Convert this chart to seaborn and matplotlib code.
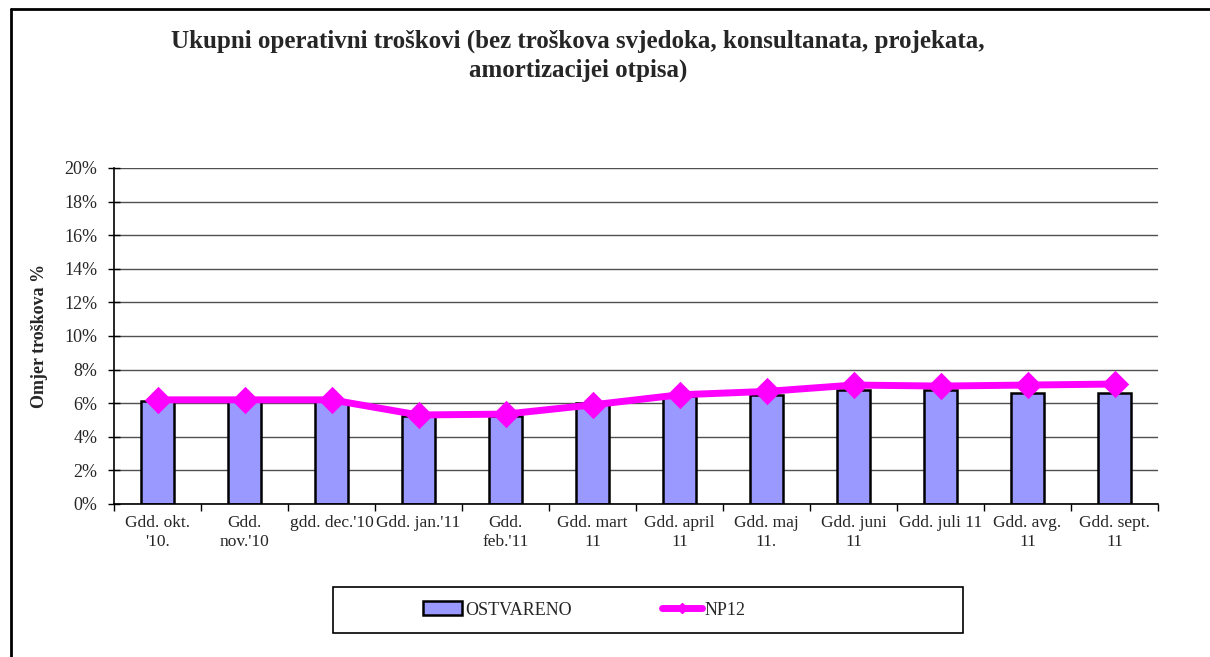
import matplotlib
matplotlib.use("Agg")
import matplotlib.pyplot as plt
import seaborn as sns
import numpy as np
from matplotlib.patches import Rectangle, Patch
from matplotlib.lines import Line2D
from matplotlib.ticker import PercentFormatter

# data
months = ["Gdd. okt.\n'10.", "Gdd.\nnov.'10", "gdd. dec.'10", "Gdd. jan.'11",
          "Gdd.\nfeb.'11", "Gdd. mart\n11", "Gdd. april\n11", "Gdd. maj\n11.",
          "Gdd. juni\n11", "Gdd. juli 11", "Gdd. avg.\n11", "Gdd. sept.\n11"]
ostvareno = [6.15, 6.15, 6.15, 5.25, 5.25, 6.0, 6.4, 6.5, 6.8, 6.8, 6.6, 6.6]
np12 = [6.2, 6.2, 6.2, 5.3, 5.35, 5.9, 6.5, 6.7, 7.08, 7.02, 7.08, 7.14]

sns.set_theme(style="white")
plt.rcParams['font.family'] = ['Liberation Serif', 'DejaVu Serif']

fig = plt.figure(figsize=(12.1, 6.57), dpi=100)
ax = fig.add_axes([114 / 1210, 1 - 504 / 657, (1158 - 114) / 1210, (504 - 168) / 657])

# horizontal grid first so bars sit on top
ax.set_axisbelow(True)
ax.yaxis.grid(True, color='#505050', lw=1)

sns.barplot(x=months, y=ostvareno, ax=ax, color='#9999FF', saturation=1,
            width=0.39, edgecolor='black', linewidth=1.8, zorder=2)
sns.pointplot(x=months, y=np12, ax=ax, color='#FF00FF', markers='D',
              linewidth=5, markersize=10, zorder=3)

ax.set_ylim(0, 20)
ax.set_xlim(-0.5, len(months) - 0.5)
ax.set_yticks(np.arange(0, 21, 2))
ax.yaxis.set_major_formatter(PercentFormatter(decimals=0))
ax.tick_params(axis='y', direction='inout', length=8, width=1, color='black',
               labelsize=13, pad=8, left=True)

# x ticks at category boundaries, labels at centres
ax.set_xticks(np.arange(-0.5, len(months), 1))
ax.set_xticklabels([])
ax.set_xticks(np.arange(len(months)), minor=True)
ax.set_xticklabels(months, minor=True, fontsize=12.5, linespacing=1.2)
ax.tick_params(axis='x', which='major', direction='out', length=5, width=1,
               color='black', bottom=True)
ax.tick_params(axis='x', which='minor', length=0, pad=8)

ax.set_xlabel('')
ax.set_ylabel('Omjer troškova %', fontsize=13, fontweight='bold', labelpad=12)

for s in ['top', 'right']:
    ax.spines[s].set_visible(False)
for s in ['left', 'bottom']:
    ax.spines[s].set_color('black')
    ax.spines[s].set_linewidth(1.2)

fig.text(578 / 1210, 1 - 56 / 657,
         'Ukupni operativni troškovi (bez troškova svjedoka, konsultanata, projekata,\namortizacijei otpisa)',
         ha='center', va='center', fontsize=18, fontweight='bold', linespacing=1.3)

# legend box
fig.patches.append(Rectangle((333 / 1210, 1 - 633 / 657), 630 / 1210, 46 / 657,
                             transform=fig.transFigure, fill=False,
                             edgecolor='black', lw=1.2))
handles = [Patch(facecolor='#9999FF', edgecolor='black', lw=1.8),
           Line2D([0], [0], color='#FF00FF', lw=5, marker='D', markersize=5)]
fig.legend(handles, ['OSTVARENO', 'NP12'], loc='center',
           bbox_to_anchor=(584 / 1210, 1 - 610 / 657), ncol=2, frameon=False,
           fontsize=13, columnspacing=5, handlelength=2.2, handletextpad=0.15,
           handleheight=0.8)

# outer chart border (left and top)
fig.add_artist(Line2D([11 / 1210, 11 / 1210], [0, 1 - 9 / 657], color='black', lw=2,
                      transform=fig.transFigure))
fig.add_artist(Line2D([11 / 1210, 1], [1 - 9 / 657, 1 - 9 / 657], color='black', lw=2,
                      transform=fig.transFigure))

fig.savefig('out.png', dpi=100, facecolor='white')
